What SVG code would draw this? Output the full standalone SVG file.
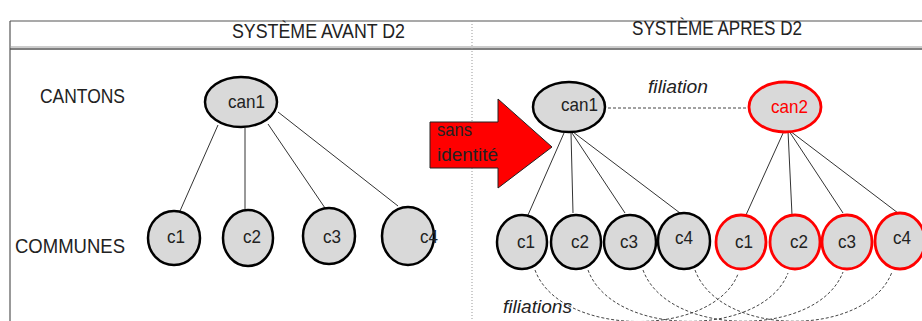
<svg xmlns="http://www.w3.org/2000/svg" width="922" height="321" viewBox="0 0 922 321">
<style>
text{font-family:"Liberation Sans",Arial,sans-serif;fill:#222}
.nb{fill:#d9d9d9;stroke:#000;stroke-width:2.5}
.nr{fill:#d9d9d9;stroke:#ff0000;stroke-width:2.8}
.ln{stroke:#333;stroke-width:1;fill:none}
.fil{stroke:#444;stroke-width:1;fill:none;stroke-dasharray:3 2}
.lbl{font-size:19px}
.it{font-style:italic;font-size:19px}
</style>
<rect width="922" height="321" fill="#fff"/>
<g id="frame">
<line x1="10" y1="21" x2="922" y2="21" stroke="#555" stroke-width="1.2"/>
<line x1="10" y1="21" x2="10" y2="321" stroke="#555" stroke-width="1.2"/>
<line x1="10" y1="47" x2="922" y2="47" stroke="#999" stroke-width="1"/>
<line x1="10" y1="49" x2="922" y2="49" stroke="#555" stroke-width="1.5"/>
<line x1="472" y1="21" x2="472" y2="321" stroke="#999" stroke-width="1" stroke-dasharray="1 2"/>
</g>
<g id="titles">
<text x="232" y="38" font-size="20" textLength="173" lengthAdjust="spacingAndGlyphs">SYSTÈME AVANT D2</text>
<text x="632" y="35" font-size="20" textLength="170" lengthAdjust="spacingAndGlyphs">SYSTÈME APRES D2</text>
<text x="40" y="103" font-size="21" textLength="85" lengthAdjust="spacingAndGlyphs">CANTONS</text>
<text x="15" y="253" font-size="21" textLength="110" lengthAdjust="spacingAndGlyphs">COMMUNES</text>
</g>
<g id="connectors">
<line class="ln" x1="218" y1="125" x2="180" y2="211"/>
<line class="ln" x1="245" y1="128" x2="245" y2="209"/>
<line class="ln" x1="268" y1="124" x2="325" y2="208"/>
<line class="ln" x1="278" y1="112" x2="398" y2="206"/>
<line class="ln" x1="564" y1="133" x2="528" y2="215"/>
<line class="ln" x1="571" y1="133" x2="573" y2="213"/>
<line class="ln" x1="572" y1="133" x2="625" y2="213"/>
<line class="ln" x1="573" y1="132" x2="680" y2="213"/>
<line class="ln" x1="784" y1="131" x2="746" y2="215"/>
<line class="ln" x1="788" y1="131" x2="792" y2="215"/>
<line class="ln" x1="789" y1="131" x2="843" y2="213"/>
<line class="ln" x1="790" y1="131" x2="898" y2="213"/>
<line x1="608" y1="108" x2="748" y2="108" stroke="#444" stroke-width="1" stroke-dasharray="3 2"/>
<path class="fil" d="M535,270 C560,338 713,338 738,274"/>
<path class="fil" d="M588,270 C613,338 763,338 788,273"/>
<path class="fil" d="M643,270 C668,338 818,338 843,272"/>
<path class="fil" d="M695,270 C720,338 867,338 892,272"/>
</g>
<g id="arrow">
<path d="M430,122 L498,122 L498,99 L552,147 L498,188 L498,168 L430,168 Z" fill="#ff0000" stroke="#222" stroke-width="1"/>
<text x="437" y="136" font-size="19" textLength="35" lengthAdjust="spacingAndGlyphs">sans</text>
<text x="437" y="161" font-size="19" textLength="61" lengthAdjust="spacingAndGlyphs">identité</text>
</g>
<g id="left-can1"><ellipse class="nb" cx="241" cy="102" rx="36" ry="25"/><text class="lbl" x="228" y="108" textLength="37" lengthAdjust="spacingAndGlyphs">can1</text></g>
<g id="left-c1"><ellipse class="nb" cx="174" cy="238" rx="26" ry="27"/><text class="lbl" x="167" y="243" textLength="18" lengthAdjust="spacingAndGlyphs">c1</text></g>
<g id="left-c2"><ellipse class="nb" cx="248" cy="238" rx="25" ry="28"/><text class="lbl" x="243" y="243" textLength="18" lengthAdjust="spacingAndGlyphs">c2</text></g>
<g id="left-c3"><ellipse class="nb" cx="329" cy="236" rx="26" ry="28"/><text class="lbl" x="323" y="243" textLength="18" lengthAdjust="spacingAndGlyphs">c3</text></g>
<g id="left-c4"><ellipse class="nb" cx="408" cy="236" rx="26" ry="29"/><text class="lbl" x="420" y="243" textLength="18" lengthAdjust="spacingAndGlyphs">c4</text></g>
<g id="right-can1"><ellipse class="nb" cx="569" cy="107" rx="36" ry="25"/><text class="lbl" x="561" y="111" textLength="37" lengthAdjust="spacingAndGlyphs">can1</text></g>
<g id="right-can2"><ellipse class="nr" cx="785" cy="107" rx="36" ry="25"/><text class="lbl" x="771" y="113" textLength="37" lengthAdjust="spacingAndGlyphs" style="fill:#ff0000">can2</text></g>
<g id="filiation-label"><text class="it" x="648" y="93" textLength="60" lengthAdjust="spacingAndGlyphs">filiation</text></g>
<g id="filiations-label"><text class="it" x="503" y="313" textLength="69" lengthAdjust="spacingAndGlyphs">filiations</text></g>
<g id="r-c1"><ellipse class="nb" cx="522" cy="242" rx="25" ry="27"/><text class="lbl" x="517" y="248" textLength="18" lengthAdjust="spacingAndGlyphs">c1</text></g>
<g id="r-c2"><ellipse class="nb" cx="576" cy="242" rx="25" ry="27"/><text class="lbl" x="571" y="248" textLength="18" lengthAdjust="spacingAndGlyphs">c2</text></g>
<g id="r-c3"><ellipse class="nb" cx="630" cy="242" rx="26" ry="27"/><text class="lbl" x="620" y="248" textLength="18" lengthAdjust="spacingAndGlyphs">c3</text></g>
<g id="r-c4"><ellipse class="nb" cx="684" cy="241" rx="26" ry="28"/><text class="lbl" x="675" y="244" textLength="18" lengthAdjust="spacingAndGlyphs">c4</text></g>
<g id="r-c1b"><ellipse class="nr" cx="741" cy="242" rx="25" ry="27"/><text class="lbl" x="735" y="248" textLength="18" lengthAdjust="spacingAndGlyphs">c1</text></g>
<g id="r-c2b"><ellipse class="nr" cx="795" cy="242" rx="25" ry="27"/><text class="lbl" x="790" y="248" textLength="18" lengthAdjust="spacingAndGlyphs">c2</text></g>
<g id="r-c3b"><ellipse class="nr" cx="847" cy="242" rx="25" ry="27"/><text class="lbl" x="838" y="248" textLength="18" lengthAdjust="spacingAndGlyphs">c3</text></g>
<g id="r-c4b"><ellipse class="nr" cx="900" cy="241" rx="25" ry="28"/><text class="lbl" x="893" y="244" textLength="18" lengthAdjust="spacingAndGlyphs">c4</text></g>
</svg>
